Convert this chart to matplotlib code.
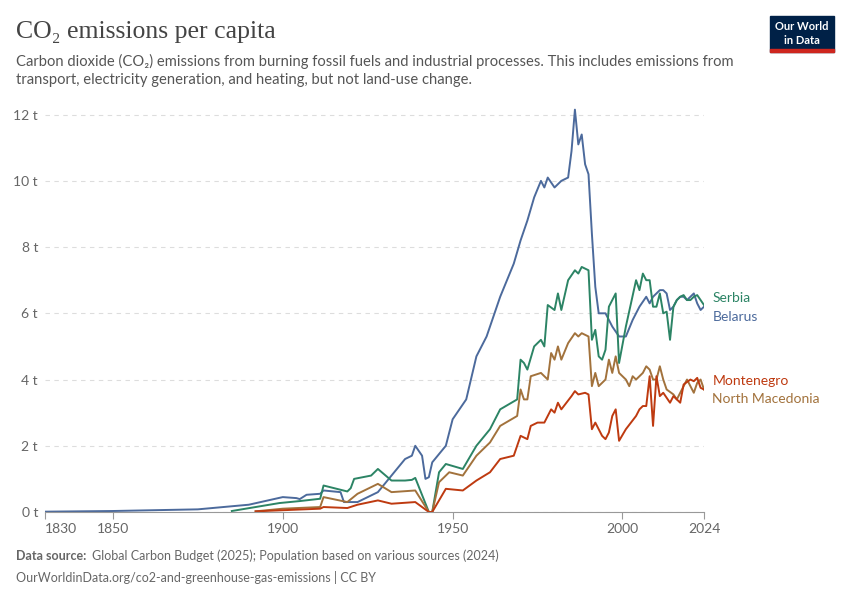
import matplotlib
matplotlib.use("Agg")
import matplotlib.pyplot as plt
from matplotlib.patches import Rectangle

belarus_years = [1830,1850,1875,1890,1900,1904,1905,1907,1911,1912,1917,1918,1922,1928,1932,1936,1938,1939,1941,1942,1943,1944,1948,1950,1954,1957,1960,1962,1964,1966,1968,1970,1972,1974,1976,1977,1978,1980,1982,1984,1985,1986,1987,1988,1989,1990,1991,1992,1993,1995,1997,1999,2001,2003,2005,2007,2008,2009,2010,2011,2012,2013,2014,2015,2016,2017,2018,2019,2020,2021,2022,2023,2024]
belarus_vals = [0.01,0.03,0.08,0.22,0.45,0.42,0.39,0.52,0.55,0.65,0.6,0.3,0.3,0.6,1.1,1.6,1.7,2.0,1.7,1.0,1.05,1.5,2.0,2.8,3.4,4.7,5.3,5.9,6.5,7.0,7.5,8.2,8.8,9.5,10.0,9.8,10.1,9.8,10.0,10.1,10.9,12.15,11.1,11.4,10.5,10.2,8.4,6.8,6.0,6.0,5.6,5.3,5.3,5.8,6.2,6.5,6.3,6.5,6.6,6.7,6.7,6.6,6.1,6.2,6.4,6.5,6.5,6.4,6.5,6.6,6.3,6.1,6.2]

serbia_years = [1885,1899,1905,1911,1912,1919,1920,1921,1926,1928,1932,1936,1938,1939,1943,1944,1946,1948,1953,1957,1961,1964,1969,1970,1971,1972,1974,1976,1977,1978,1980,1981,1982,1984,1986,1987,1988,1989,1990,1991,1992,1993,1994,1995,1996,1998,1999,2001,2004,2005,2006,2007,2008,2009,2010,2011,2012,2013,2014,2015,2016,2017,2018,2019,2020,2021,2022,2023,2024]
serbia_vals = [0.03,0.27,0.33,0.4,0.8,0.62,0.72,1.0,1.1,1.3,0.95,0.95,0.97,1.03,0.0,0.0,1.2,1.45,1.3,2.0,2.5,3.1,3.4,4.6,4.5,4.3,5.0,5.2,5.0,6.25,6.1,6.6,6.1,7.0,7.3,7.2,7.4,7.35,7.3,5.2,5.5,4.7,4.6,4.9,6.2,6.6,4.5,5.6,7.0,6.7,7.2,7.0,7.0,6.2,6.2,6.6,6.0,6.05,5.2,6.2,6.4,6.5,6.55,6.4,6.4,6.5,6.55,6.4,6.25]

macedonia_years = [1892,1900,1911,1912,1919,1922,1928,1932,1939,1943,1944,1946,1949,1953,1957,1961,1964,1969,1970,1971,1972,1973,1976,1978,1979,1980,1981,1982,1984,1986,1987,1988,1990,1991,1992,1993,1995,1996,1997,1998,1999,2001,2002,2003,2004,2006,2007,2008,2009,2010,2011,2012,2013,2015,2016,2018,2019,2021,2022,2023,2024]
macedonia_vals = [0.02,0.1,0.15,0.45,0.3,0.55,0.85,0.6,0.65,0.0,0.0,0.9,1.2,1.1,1.7,2.1,2.6,2.9,3.7,3.4,3.4,4.1,4.2,4.0,4.8,4.6,5.0,4.6,5.1,5.4,5.3,5.4,5.3,3.8,4.2,3.8,4.0,4.6,4.2,4.7,4.2,4.0,3.8,4.1,4.0,4.2,4.4,4.3,4.0,4.0,4.4,4.0,3.7,3.55,3.4,3.8,4.0,3.6,3.9,4.0,3.7]

montenegro_years = [1892,1911,1912,1919,1922,1928,1932,1939,1943,1944,1948,1953,1957,1961,1964,1968,1970,1972,1973,1975,1977,1979,1980,1981,1982,1985,1986,1987,1989,1990,1991,1992,1994,1995,1996,1997,1998,1999,2001,2004,2005,2006,2007,2008,2009,2010,2011,2012,2014,2015,2017,2018,2020,2021,2022,2023,2024]
montenegro_vals = [0.02,0.1,0.15,0.12,0.22,0.35,0.25,0.3,0.0,0.0,0.7,0.65,0.95,1.2,1.6,1.7,2.3,2.2,2.6,2.7,2.7,3.1,3.0,3.3,3.1,3.5,3.65,3.55,3.6,3.55,2.5,2.7,2.3,2.2,2.4,2.9,3.1,2.15,2.5,2.9,3.1,3.2,3.2,4.1,2.6,4.1,3.5,3.6,3.3,3.5,3.3,3.85,4.0,3.95,4.05,3.75,3.7]

series = [
    ("Belarus", belarus_years, belarus_vals, "#4C6A9C"),
    ("Serbia", serbia_years, serbia_vals, "#2C8465"),
    ("North Macedonia", macedonia_years, macedonia_vals, "#A2723C"),
    ("Montenegro", montenegro_years, montenegro_vals, "#BE3A10"),
]
label_y = {"Serbia": 6.45, "Belarus": 5.9, "Montenegro": 3.95, "North Macedonia": 3.4}

xticks = [1830, 1850, 1900, 1950, 2000, 2024]
yticks = [0, 2, 4, 6, 8, 10, 12]

plt.rcParams['font.family'] = ['Lato', 'DejaVu Sans']
fig = plt.figure(figsize=(8.5, 6), dpi=100)
ax = fig.add_axes([45/850, 88/600, 659/850, 404/600])
for name, xs, ys, c in series:
    ax.plot(xs, ys, color=c, lw=1.4, solid_joinstyle='round')
    ax.text(2026.5, label_y[name], name, color=c, fontsize=10, va='center', ha='left', clip_on=False)

ax.set_xlim(1830, 2024)
ax.set_ylim(0, 12.2)
ax.set_yticks(yticks)
ax.set_yticklabels([f"{v} t" for v in yticks], fontsize=10, color="#666666")
ax.set_xticks(xticks)
ax.set_xticklabels([str(v) for v in xticks], fontsize=10, color="#666666")
ax.get_xticklabels()[0].set_ha('left')
ax.tick_params(axis='y', length=0, pad=5)
ax.tick_params(axis='x', length=5, color="#999999", pad=3)
ax.grid(axis='y', color="#dddddd", ls=(0, (4, 4)), lw=0.8)
for s in ['top', 'right', 'left']:
    ax.spines[s].set_visible(False)
ax.spines['bottom'].set_color("#999999")
ax.set_axisbelow(True)

fig.text(16/850, 1-32/600, "CO₂ emissions per capita", fontsize=18.5, family=['Liberation Serif', 'DejaVu Serif'], color="#444444", va='center')
fig.text(16/850, 1-61/600, "Carbon dioxide (CO₂) emissions from burning fossil fuels and industrial processes. This includes emissions from", fontsize=10.6, color="#555555", va='center')
fig.text(16/850, 1-80/600, "transport, electricity generation, and heating, but not land-use change.", fontsize=10.6, color="#555555", va='center')
fig.text(16/850, 1-556/600, "Data source:", fontsize=9, color="#666666", va='center', weight='bold')
fig.text(92/850, 1-556/600, "Global Carbon Budget (2025); Population based on various sources (2024)", fontsize=9, color="#666666", va='center')
fig.text(16/850, 1-577/600, "OurWorldinData.org/co2-and-greenhouse-gas-emissions | CC BY", fontsize=9, color="#666666", va='center')

fig.patches.append(Rectangle((770/850, 1-52/600), 64/850, 36/600, transform=fig.transFigure, color="#002147"))
fig.patches.append(Rectangle((770/850, 1-52/600), 64/850, 3/600, transform=fig.transFigure, color="#CE261E"))
fig.text(802/850, 1-27/600, "Our World", fontsize=8, color="white", ha='center', va='center', weight='bold')
fig.text(802/850, 1-40/600, "in Data", fontsize=8, color="white", ha='center', va='center', weight='bold')

fig.savefig("out.png", dpi=100)
